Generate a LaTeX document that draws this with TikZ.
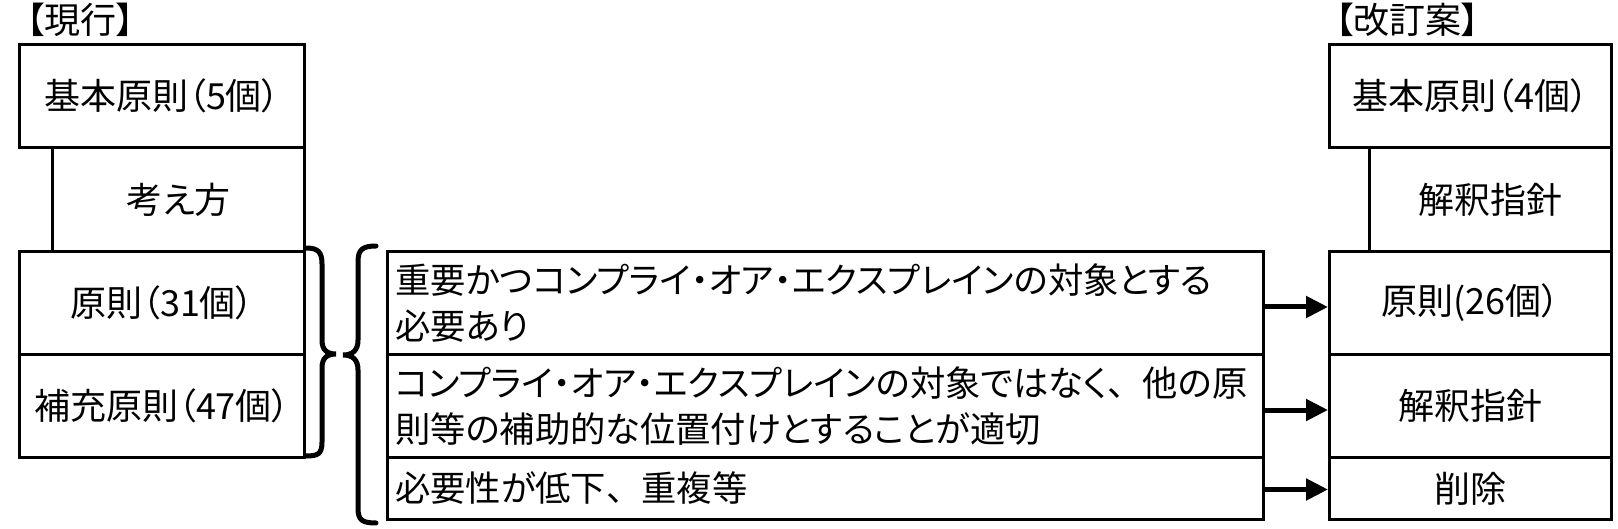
\documentclass[tikz,border=0pt]{standalone}
\usepackage{fontspec}
\setmainfont{Noto Sans CJK JP}[RawFeature={+palt}]
\newfontfamily\fullwidthfont{Noto Sans CJK JP}
\usetikzlibrary{arrows.meta}
\tikzset{
  box/.style={draw=black, line width=3pt, inner sep=0pt, anchor=north west,
              font=\fontsize{36}{44}\selectfont},
  midtext/.style={anchor=west, align=left, inner sep=0pt,
              font=\fontsize{35.3}{46}\selectfont},
  titletext/.style={anchor=west, inner sep=0pt, font=\fontsize{36}{40}\selectfont},
  arr/.style={line width=5pt, -{Triangle[length=22pt,width=21pt]}},
  bracepath/.style={line width=5pt, line cap=round}
}
\begin{document}
\begin{tikzpicture}[x=1pt,y=-1pt]
\useasboundingbox (0,0) rectangle (1618,529);
% titles
\node[titletext] (t1) at (26,20) {【現行】};
\node[titletext] (t2) at (1335,20) {【改訂案】};
% left column
\node[box, minimum width=285pt, minimum height=103pt] (L1) at (18,43) {基本原則（5個）};
\node[box, minimum width=252pt, minimum height=104pt] (L2) at (51,146) {考え方};
\node[box, minimum width=285pt, minimum height=103pt] (L3) at (18,250) {原則（31個）};
\node[box, minimum width=285pt, minimum height=103pt] (L4) at (18,353) {補充原則（47個）};
% middle rows
\node[box, minimum width=876pt, minimum height=103pt] (M1) at (386,250) {};
\node[box, minimum width=876pt, minimum height=103pt] (M2) at (386,353) {};
\node[box, minimum width=876pt, minimum height=62pt] (M3) at (386,456) {};
\node[midtext] (m1) at ([xshift=9pt]M1.west) {重要かつコンプライ・オア・エクスプレインの対象とする\\必要あり};
\node[midtext] (m2) at ([xshift=9pt]M2.west) {コンプライ・オア・エクスプレインの対象ではなく{\fullwidthfont 、}他の原\\則等の補助的な位置付けとすることが適切};
\node[midtext] (m3) at ([xshift=9pt]M3.west) {必要性が低下{\fullwidthfont 、}重複等};
% right column
\node[box, minimum width=282pt, minimum height=103pt] (R1) at (1328,43) {基本原則（4個）};
\node[box, minimum width=242pt, minimum height=104pt] (R2) at (1368,146) {解釈指針};
\node[box, minimum width=282pt, minimum height=103pt] (R3) at (1328,250) {原則(26個）};
\node[box, minimum width=282pt, minimum height=103pt] (R4) at (1328,353) {解釈指針};
\node[box, minimum width=282pt, minimum height=62pt] (R5) at (1328,456) {削除};
% arrows
\draw[arr] ([yshift=-4pt]M1.east) -- ([yshift=-4pt]R3.west);
\draw[arr] ([yshift=-4pt]M2.east) -- ([yshift=-4pt]R4.west);
\draw[arr] ([yshift=-1pt]M3.east) -- ([yshift=-1pt]R5.west);
% braces
\draw[bracepath] (306,248) .. controls (318,248) and (322,252) .. (322,264)
  -- (322,340) .. controls (322,350) and (327,354) .. (336,354)
  .. controls (327,354) and (322,358) .. (322,368)
  -- (322,442) .. controls (322,454) and (318,456) .. (306,456);
\draw[bracepath] (376,246) .. controls (362,246) and (358,250) .. (358,262)
  -- (358,340) .. controls (358,350) and (353,355) .. (343,355)
  .. controls (353,355) and (358,360) .. (358,370)
  -- (358,508) .. controls (358,520) and (362,523) .. (376,523);
\end{tikzpicture}
\end{document}
